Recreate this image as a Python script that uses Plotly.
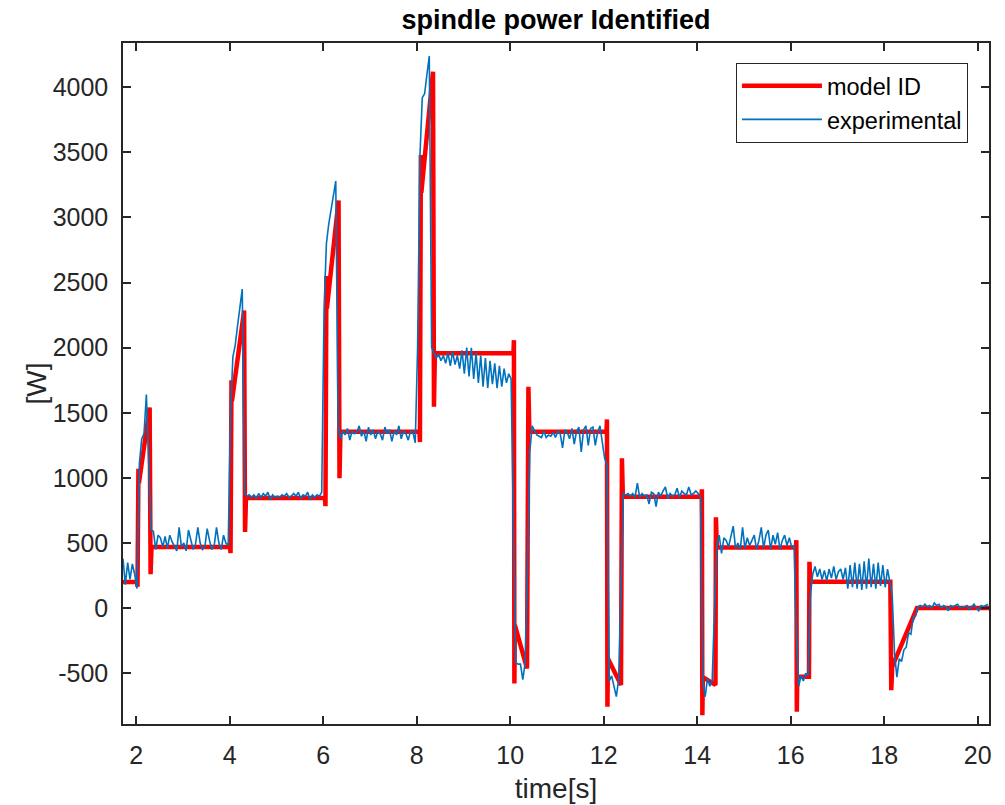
import numpy as np
import plotly.graph_objects as go

# ---------------- data ----------------
# model ID (red): breakpoints time [s] / power [W]
model_t = [1.72, 2.02, 2.03, 2.05, 2.06, 2.29, 2.31, 2.33,
           4.01, 4.02, 4.04, 4.05, 4.31, 4.33, 4.35,
           6.04, 6.05, 6.07, 6.08, 6.33, 6.35, 6.37,
           8.06, 8.07, 8.09, 8.10, 8.35, 8.37, 8.39,
           10.07, 10.08, 10.09, 10.10, 10.36, 10.39, 10.41,
           12.06, 12.07, 12.08, 12.09, 12.37, 12.39, 12.41,
           14.09, 14.10, 14.11, 14.12, 14.39, 14.40, 14.42,
           16.11, 16.12, 16.13, 16.14, 16.39, 16.40, 16.42,
           18.13, 18.15, 18.17, 18.70, 20.24]
model_w = [200, 200, 164, 1070, 960, 1540, 260, 470,
           470, 422, 1750, 1590, 2285, 585, 845,
           845, 783, 2550, 2300, 3130, 998, 1354,
           1354, 1275, 3480, 3190, 4120, 1546, 1958,
           1958, 2058, -579, -131, -463, 1700, 1354,
           1354, 1449, -758, -387, -591, 1150, 855,
           855, 912, -822, -530, -590, 697, 465,
           465, 522, -796, -527, -527, 356, 202,
           202, -630, -450, 0, 0]

# experimental (blue): sampled every 0.05 s starting at 1.72 s
exp_t0 = 1.72
exp_dt = 0.05
exp_w_a = [380, 180, 350, 220, 340, 260, 150]
exp_w_b = [1110, 1300, 1340, 1640, 1050]
exp_w_c = [600, 590, 450, 560, 540, 470, 550, 460, 560, 510, 470, 440, 620, 470, 500, 440, 600,
           520, 450, 490, 620, 500, 450, 470, 610, 520, 450, 480, 620, 500, 450, 560, 500, 480]
exp_w_d = [1500, 1930, 2020, 2170, 2300, 2450, 880]
exp_w_e = [860, 870, 850, 870, 840, 880, 850, 880, 860, 890, 830, 870, 850, 860, 850, 870, 860,
           880, 850, 860, 880, 860, 890, 840, 870, 860, 890, 830, 870, 850, 870, 860, 890]
exp_w_f = [2300, 2800, 2950, 3050, 3150, 3280, 1400]
exp_w_g = [1300, 1360, 1330, 1380, 1290, 1360, 1340, 1350, 1400, 1320, 1360, 1280, 1390, 1330,
           1370, 1300, 1360, 1340, 1290, 1390, 1340, 1370, 1280, 1360, 1330, 1400, 1300, 1360,
           1340, 1290, 1360, 1350, 1270]
exp_w_h = [2000, 3470, 3920, 3950, 4100, 4240, 2000]
exp_w_i = [1960, 1920, 1950, 1900, 1940, 1880, 1960, 1860, 1970, 1870, 1940, 1840, 1980, 1800,
           2000, 1780, 2000, 1760, 1960, 1730, 1940, 1700, 1920, 1690, 1900, 1720, 1880, 1690,
           1860, 1700, 1840, 1730, 1800, 1760]
exp_w_j = [600, -420, -430, -430, -550, -420, 300, 1200, 1400]
exp_w_k = [1360, 1330, 1320, 1310, 1360, 1310, 1330, 1320, 1350, 1310, 1360, 1340, 1230, 1370,
           1350, 1300, 1380, 1260, 1360, 1390, 1200, 1370, 1400, 1250, 1380, 1390, 1250, 1350,
           1400, 1280, 1150]
exp_w_l = [1100, -560, -520, -600, -680, -550, 200, 880]
exp_w_m = [870, 880, 860, 880, 850, 960, 850, 880, 860, 870, 800, 890, 880, 780, 890, 860, 900,
           930, 840, 880, 860, 870, 920, 850, 900, 880, 870, 930, 870, 880, 900, 880, 850]
exp_w_n = [-560, -680, -540, -600, -560, 0, 480]
exp_w_o = [560, 420, 540, 520, 470, 540, 630, 460, 500, 450, 620, 460, 540, 480, 520, 560, 450,
           520, 620, 460, 560, 600, 450, 560, 490, 580, 450, 520, 560, 480, 540, 470, 480]
exp_w_p = [-200, -600, -520, -560, -500, -520, 100]
exp_w_q = [260, 320, 240, 300, 220, 290, 210, 300, 230, 320, 220, 280, 300, 220, 310, 150, 330,
           160, 350, 150, 340, 140, 360, 150, 380, 160, 340, 150, 350, 170, 330, 160, 300, 200]
exp_w_r = [100, -350, -530, -390, -410, -320, -300, -190, -200, -70, -60, 10]
exp_w_s = [20, 10, 30, 10, 20, 0, 40, 20, 30, 0, 20, 10, -20, 20, 10, 20, 30, 0, 10, 10, 20, -10,
           10, 30, 0, -20, 20, 10, 20, 30]

exp_w = (exp_w_a + exp_w_b + exp_w_c + exp_w_d + exp_w_e + exp_w_f + exp_w_g + exp_w_h +
         exp_w_i + exp_w_j + exp_w_k + exp_w_l + exp_w_m + exp_w_n + exp_w_o + exp_w_p +
         exp_w_q + exp_w_r + exp_w_s)
exp_t = exp_t0 + exp_dt * np.arange(len(exp_w))

x_ticks = [2, 4, 6, 8, 10, 12, 14, 16, 18, 20]
x_tick_labels = ["2", "4", "6", "8", "10", "12", "14", "16", "18", "20"]
y_ticks = [-500, 0, 500, 1000, 1500, 2000, 2500, 3000, 3500, 4000]
y_tick_labels = ["-500", "0", "500", "1000", "1500", "2000", "2500", "3000", "3500", "4000"]

# ---------------- figure ----------------
FONT = "Liberation Sans, Arial, sans-serif"
AX = "#262626"
W, H = 1005, 805
ML, MR, MT, MB = 123, 16, 43, 81

fig = go.Figure()
fig.add_trace(go.Scatter(x=model_t, y=model_w, mode="lines", name="model ID",
                         line=dict(color="#FF0000", width=4.5)))
fig.add_trace(go.Scatter(x=exp_t, y=exp_w, mode="lines", name="experimental",
                         line=dict(color="#0072BD", width=1.6)))

axis_common = dict(showline=True, linecolor=AX, linewidth=1.5, mirror="ticks",
                   ticks="inside", ticklen=8, tickwidth=1.5, tickcolor=AX,
                   showgrid=False, zeroline=False, automargin=False,
                   tickfont=dict(family=FONT, size=25, color=AX))

fig.update_xaxes(range=[1.72, 20.24], tickvals=x_ticks, ticktext=x_tick_labels,
                 ticklabelstandoff=8,
                 title=dict(text="time[s]", font=dict(family=FONT, size=28, color=AX), standoff=11),
                 **axis_common)
fig.update_yaxes(range=[-890, 4340], tickvals=y_ticks, ticktext=y_tick_labels,
                 ticklabelstandoff=8, **axis_common)

fig.add_annotation(text="[W]", xref="paper", yref="paper",
                   x=(36 - ML) / (W - ML - MR), y=0.5, xanchor="center", yanchor="middle",
                   textangle=-90, showarrow=False,
                   font=dict(family=FONT, size=28, color=AX))

fig.update_layout(
    width=W, height=H,
    margin=dict(l=ML, r=MR, t=MT, b=MB),
    paper_bgcolor="white", plot_bgcolor="white",
    title=dict(text="spindle power Identified", x=0.5, xref="paper", xanchor="center",
               y=1 - 20 / H, yref="container", yanchor="middle",
               font=dict(family=FONT, size=27, color="#000000", weight="bold")),
    legend=dict(x=0.9757, y=0.9706, xanchor="right", yanchor="top",
                bgcolor="white", bordercolor=AX, borderwidth=1,
                font=dict(family=FONT, size=23.5, color="#000000"),
                itemwidth=80, tracegroupgap=0),
    showlegend=True,
)

fig.write_html("out.html")
